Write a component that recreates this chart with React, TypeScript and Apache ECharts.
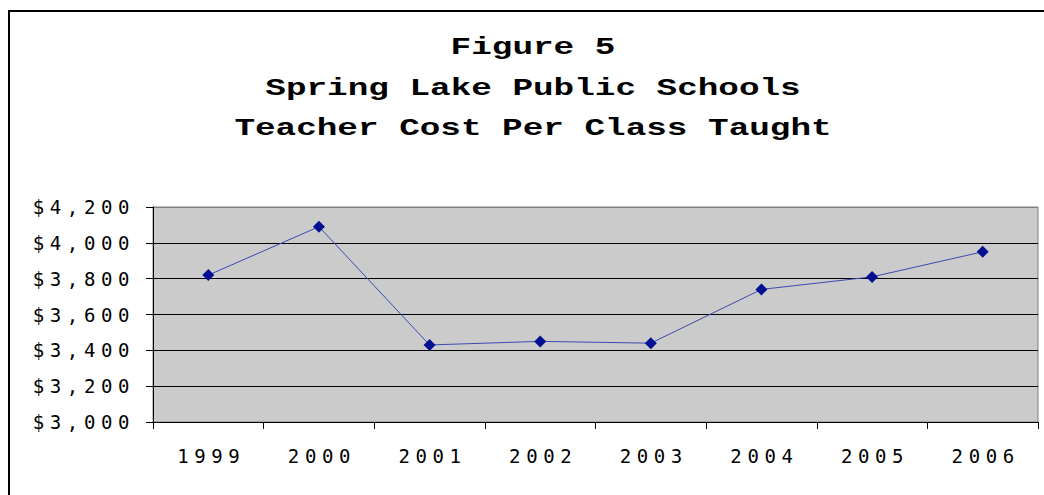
import React, { useEffect, useRef } from "react";
import * as echarts from "echarts";

const titleLines = ["Figure 5", "Spring Lake Public Schools", "Teacher Cost Per Class Taught"];
const years = ["1999", "2000", "2001", "2002", "2003", "2004", "2005", "2006"];
const costPerClass = [3820, 4090, 3430, 3450, 3440, 3740, 3810, 3950];
const yMin = 3000;
const yMax = 4200;
const yStep = 200;

const TITLE_FONT = "'Liberation Mono', 'Courier New', monospace";
const LABEL_FONT = "'DejaVu Sans Mono', monospace";
const titleCenterX = 533;
const titleLineY = [48, 89, 129];

export default function App() {
  const ref = useRef<HTMLDivElement>(null);
  useEffect(() => {
    if (!ref.current) return;
    const chart = echarts.init(ref.current, undefined, { renderer: "svg" });
    const gridColors = ["#000", "#000", "#000", "#000", "#000", "#000", "#808080"];
    chart.setOption({
      animation: false,
      backgroundColor: "#ffffff",
      graphic: [
        {
          type: "rect",
          shape: { x: 9, y: 11, width: 3000, height: 3000 },
          style: { fill: "none", stroke: "#000", lineWidth: 2 },
          silent: true,
          z: 100,
        },
        ...titleLines.map((t, i) => ({
          type: "text",
          x: titleCenterX,
          y: titleLineY[i],
          scaleX: 1.43,
          scaleY: 1,
          silent: true,
          style: {
            text: t,
            fontFamily: TITLE_FONT,
            fontWeight: "bold",
            fontSize: 24,
            fill: "#000",
            textAlign: "center",
            textVerticalAlign: "middle",
          },
        })),
      ],
      grid: {
        left: 153,
        top: 207,
        right: 6,
        bottom: 73,
        show: true,
        backgroundColor: "#cbcbcb",
        borderColor: "#808080",
        borderWidth: 1,
      },
      xAxis: {
        type: "category",
        data: years,
        boundaryGap: true,
        axisLine: { show: true, lineStyle: { color: "#000", width: 1 } },
        axisTick: { show: true, inside: false, length: 7, lineStyle: { color: "#000" } },
        axisLabel: {
          margin: 24,
          fontFamily: LABEL_FONT,
          fontSize: 19,
          color: "#000",
          padding: [0, 0, 0, 6],
        },
        splitLine: { show: false },
      },
      yAxis: {
        type: "value",
        min: yMin,
        max: yMax,
        interval: yStep,
        axisLine: { show: true, lineStyle: { color: "#000", width: 1 } },
        axisTick: { show: true, inside: false, length: 7, lineStyle: { color: "#000" } },
        axisLabel: {
          margin: 18,
          fontFamily: LABEL_FONT,
          fontSize: 19,
          color: "#000",
          formatter: (v: number) => "$" + v.toLocaleString("en-US"),
        },
        splitLine: { show: true, lineStyle: { color: gridColors, width: 1 } },
      },
      series: [
        {
          type: "line",
          data: costPerClass,
          symbol: "diamond",
          symbolSize: 12,
          showAllSymbol: true,
          lineStyle: { color: "#3a4bb0", width: 1 },
          itemStyle: { color: "#001090" },
          z: 5,
        },
      ],
    });
    return () => chart.dispose();
  }, []);
  return (
    <>
      <style>
        {'.chart-root text[style*="DejaVu"], .chart-root text[font-family*="DejaVu"] { letter-spacing: 5.6px; }'}
      </style>
      <div
        className="chart-root"
        ref={ref}
        style={{ position: "fixed", left: 0, top: 0, width: 1044, height: 495 }}
      />
    </>
  );
}
